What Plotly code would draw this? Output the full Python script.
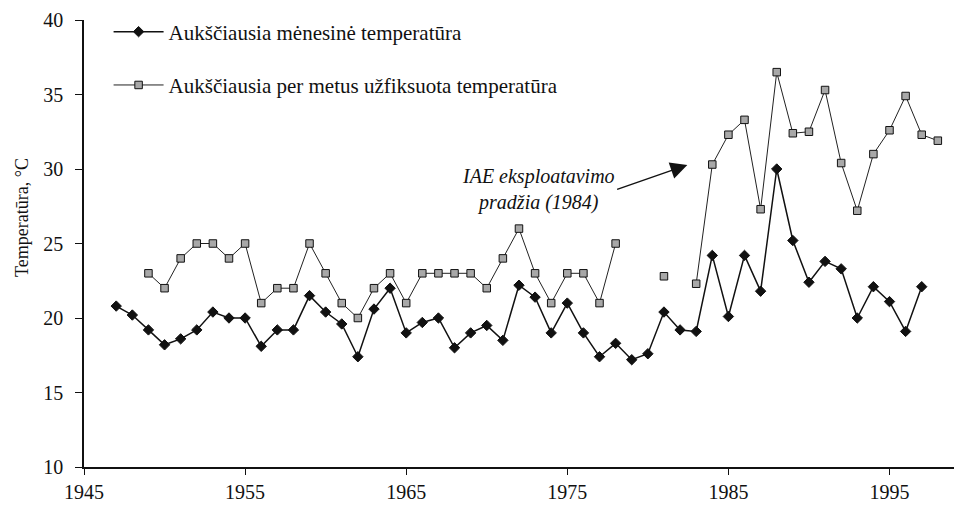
import plotly.graph_objects as go

years_monthly = list(range(1947, 1998))
monthly_max = [20.8, 20.2, 19.2, 18.2, 18.6, 19.2, 20.4, 20.0, 20.0, 18.1,
               19.2, 19.2, 21.5, 20.4, 19.6, 17.4, 20.6, 22.0, 19.0, 19.7,
               20.0, 18.0, 19.0, 19.5, 18.5, 22.2, 21.4, 19.0, 21.0, 19.0,
               17.4, 18.3, 17.2, 17.6, 20.4, 19.2, 19.1, 24.2, 20.1, 24.2,
               21.8, 30.0, 25.2, 22.4, 23.8, 23.3, 20.0, 22.1, 21.1, 19.1,
               22.1]

years_annual = list(range(1949, 1999))
annual_max = [23, 22, 24, 25, 25, 24, 25, 21, 22, 22,
              25, 23, 21, 20, 22, 23, 21, 23, 23, 23,
              23, 22, 24, 26, 23, 21, 23, 23, 21, 25,
              None, None, 22.8, None, 22.3, 30.3, 32.3, 33.3, 27.3, 36.5,
              32.4, 32.5, 35.3, 30.4, 27.2, 31.0, 32.6, 34.9, 32.3, 31.9]

x_ticks = [1945, 1955, 1965, 1975, 1985, 1995]
y_ticks = [10, 15, 20, 25, 30, 35, 40]

series_names = ["Aukščiausia mėnesinė temperatūra",
                "Aukščiausia per metus užfiksuota temperatūra"]
y_title = "Temperatūra, °C"
note = "<i>IAE eksploatavimo<br>pradžia (1984)</i>"

FONT = "Liberation Serif, Times New Roman, serif"
INK = "#111111"

# page has an 8px body margin; figure sized/margined to compensate
W, H = 954, 498
L, T, R, B = 76, 12, 0, 39
PW, PH = W - L - R, H - T - B

fig = go.Figure()
fig.add_trace(go.Scatter(
    x=years_monthly, y=monthly_max, mode="lines+markers",
    name=series_names[0], legendgroup="a",
    line=dict(color=INK, width=1.5),
    marker=dict(symbol="diamond", size=8, color=INK,
                line=dict(color=INK, width=1)),
))
fig.add_trace(go.Scatter(
    x=years_annual, y=annual_max, mode="lines+markers",
    name=series_names[1], legendgroup="b", connectgaps=False,
    line=dict(color="#222222", width=1),
    marker=dict(symbol="square", size=7.5, color="#a8a8a8",
                line=dict(color="#111111", width=1)),
))

fig.add_annotation(
    x=1982.45, y=30.27, ax=1978.0, ay=28.6, xref="x", yref="y",
    axref="x", ayref="y", text="", showarrow=True,
    arrowhead=2, arrowsize=2.4, arrowwidth=1.4, arrowcolor=INK,
)
fig.add_annotation(
    x=1973.2, y=28.65, xref="x", yref="y", xanchor="center", yanchor="middle",
    text=note, showarrow=False,
    align="center", font=dict(family=FONT, size=20, color=INK),
)
fig.add_annotation(
    x=-(62 / PW), y=(467 - 218) / PH, xref="paper", yref="paper",
    xanchor="center", yanchor="middle", textangle=-90,
    text=y_title, showarrow=False,
    font=dict(family=FONT, size=18, color=INK),
)

fig.update_layout(
    width=W, height=H,
    margin=dict(l=L, r=R, t=T, b=B),
    paper_bgcolor="white", plot_bgcolor="white",
    font=dict(family=FONT, size=20, color=INK),
    showlegend=True,
    legend=dict(x=0.028, y=1.019, xanchor="left", yanchor="top",
                bgcolor="rgba(0,0,0,0)", tracegroupgap=23, itemwidth=50,
                font=dict(family=FONT, size=21, color=INK)),
    xaxis=dict(range=[1945, 1999.5], tickvals=x_ticks, ticks="outside",
               ticklen=6, showgrid=False, zeroline=False, showline=True,
               linecolor=INK, linewidth=1.5, tickcolor=INK, automargin=False,
               tickfont=dict(family=FONT, size=20, color=INK)),
    yaxis=dict(range=[10, 40], tickvals=y_ticks, ticks="outside",
               ticklen=7, showgrid=False, zeroline=False, showline=True,
               linecolor=INK, linewidth=1.5, tickcolor=INK, automargin=False,
               ticklabelstandoff=8,
               tickfont=dict(family=FONT, size=20, color=INK)),
)

fig.write_html("out.html")
